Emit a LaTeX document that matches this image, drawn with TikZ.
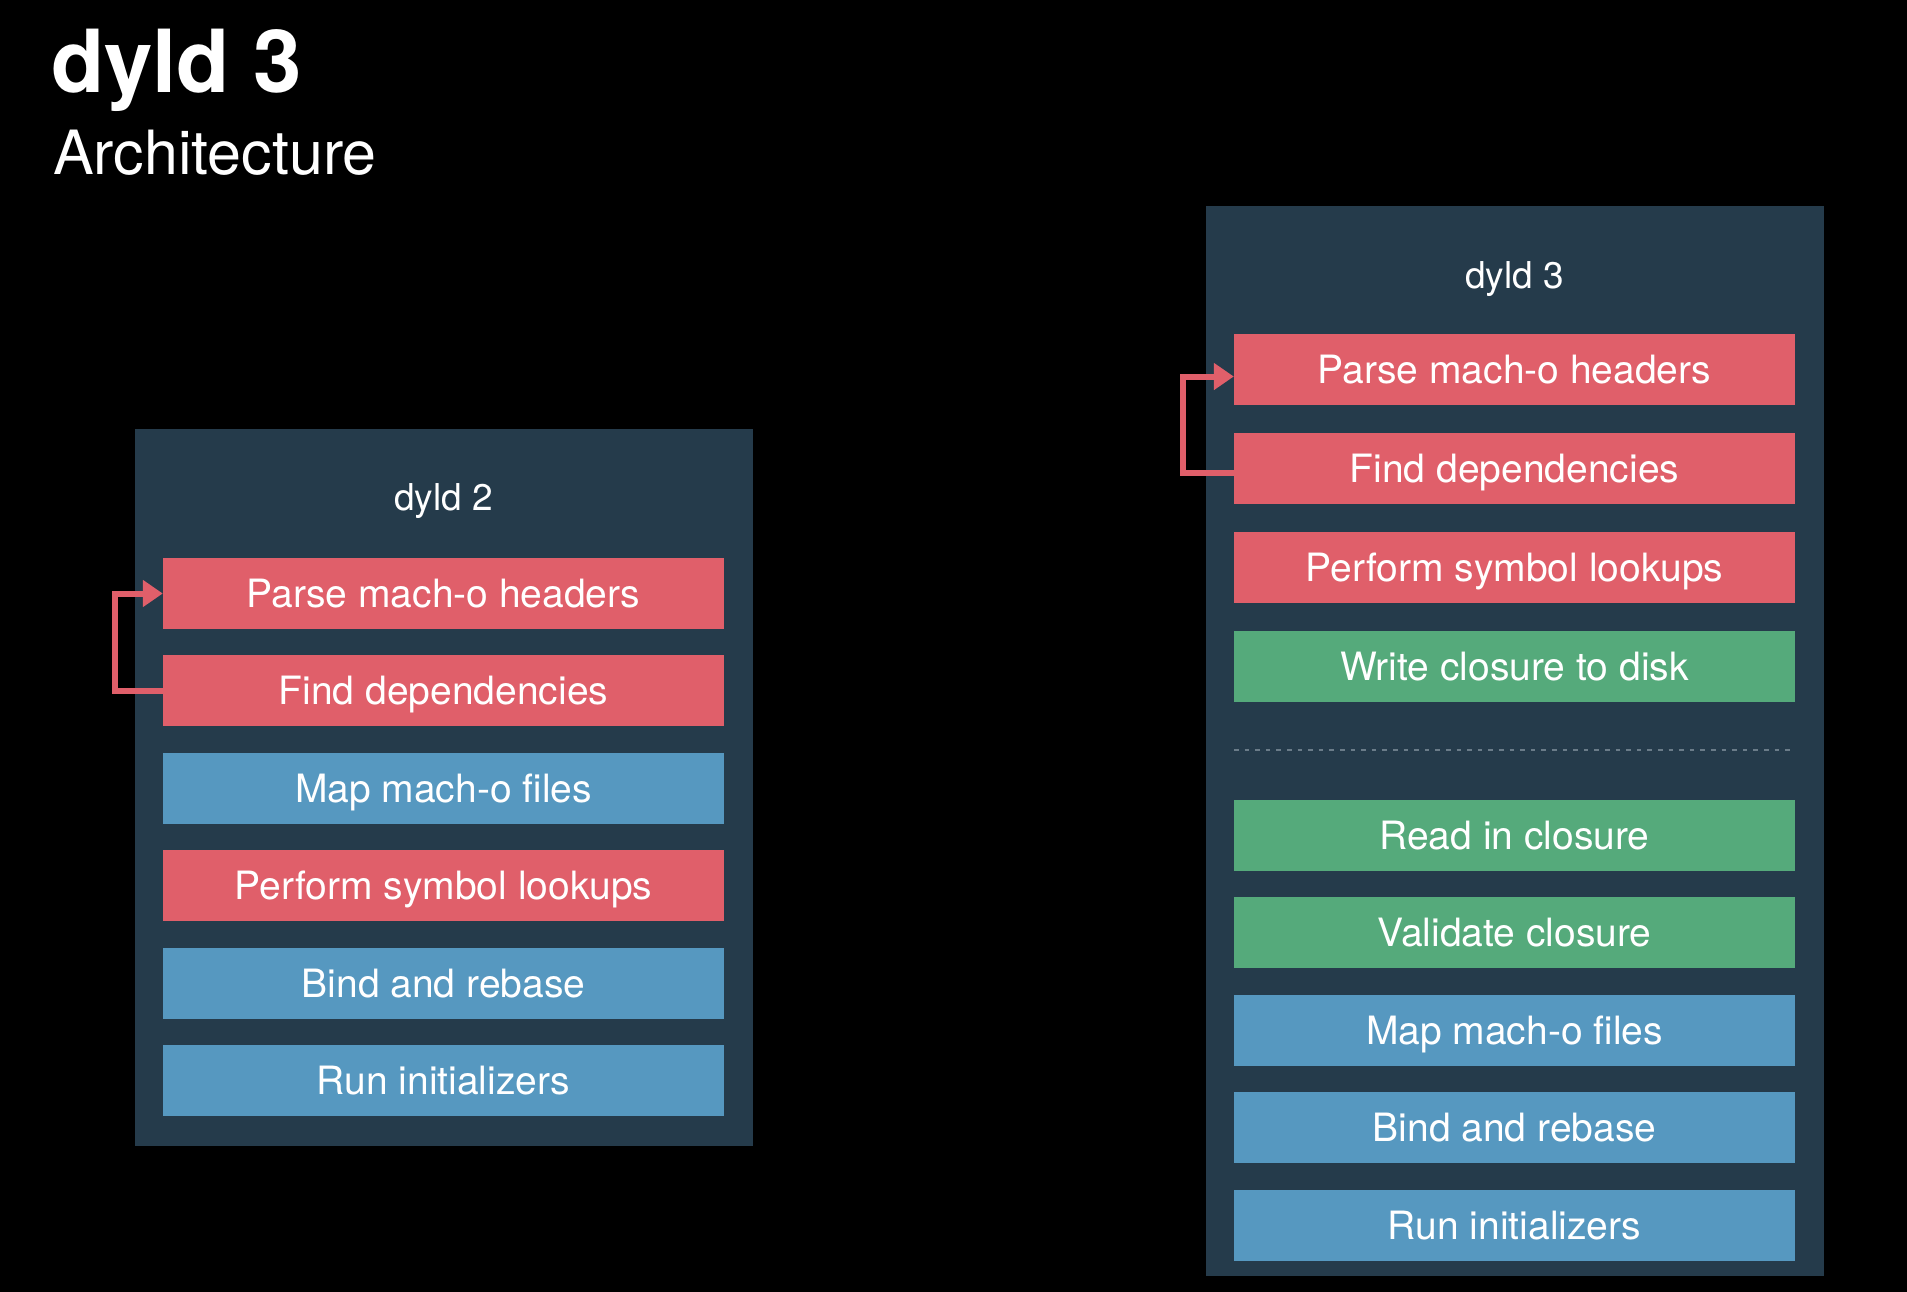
\documentclass[tikz,border=0pt]{standalone}
\usepackage{fontspec}
\setmainfont{TeX Gyre Heros}
\usetikzlibrary{arrows.meta}
\definecolor{panelbg}{HTML}{253B4B}
\definecolor{lookupred}{HTML}{E05F6A}
\definecolor{runblue}{HTML}{5698C0}
\definecolor{closuregreen}{HTML}{55AA7B}
\definecolor{sepgrey}{HTML}{6B7C89}

\begin{document}
\begin{tikzpicture}[x=1pt,y=-1pt,
    box/.style={minimum width=561pt, minimum height=71pt, inner sep=0pt, text=white,
      text height=28pt, text depth=0pt, font=\fontsize{39}{47}\selectfont},
    lookup/.style={box, fill=lookupred},
    runtime/.style={box, fill=runblue},
    closure/.style={box, fill=closuregreen},
    panel/.style={fill=panelbg},
    label/.style={text=white, anchor=base, inner sep=0pt, font=\fontsize{37}{44}\selectfont},
    back/.style={draw=lookupred, line width=6pt, -{Triangle[length=20pt,width=26pt]}},
    sep/.style={draw=sepgrey, line width=2.4pt, dash pattern=on 4.6pt off 6pt}]
  \fill[black] (0,0) rectangle (1907,1292);
  \node[text=white, anchor=base west, inner sep=0pt, font=\fontsize{87}{100}\selectfont\bfseries] (title) at (51,93) {dyld 3};
  \node[text=white, anchor=base west, inner sep=0pt, font=\fontsize{61}{72}\selectfont] (subtitle) at (53,175) {Architecture};

  \fill[panel] (135,429) rectangle (753,1146);
  \node[label] (d2) at (443.5,510) {dyld 2};
  \foreach \t/\s [count=\i] in {Parse mach-o headers/lookup, Find dependencies/lookup,
      Map mach-o files/runtime, Perform symbol lookups/lookup,
      Bind and rebase/runtime, Run initializers/runtime}
    \node[\s] (l\i) at (443.5,{593.5+97.4*(\i-1)}) {\t};
  \draw[back] (l2.west) -- ++(-48,0) |- (l1.west);

  \fill[panel] (1206,206) rectangle (1824,1276);
  \node[label] (d3) at (1514.5,288) {dyld 3};
  \foreach \t/\s [count=\i] in {Parse mach-o headers/lookup, Find dependencies/lookup,
      Perform symbol lookups/lookup, Write closure to disk/closure}
    \node[\s] (r\i) at (1514.5,{369.5+99*(\i-1)}) {\t};
  \foreach \t/\s [count=\i from 5] in {Read in closure/closure, Validate closure/closure,
      Map mach-o files/runtime, Bind and rebase/runtime, Run initializers/runtime}
    \node[\s] (r\i) at (1514.5,{835.5+97.4*(\i-5)}) {\t};
  \draw[sep] (1234,750) -- (1795,750);
  \draw[back] ([yshift=-4pt]r2.west) -- ++(-51,0) |- ([yshift=-7pt]r1.west);
\end{tikzpicture}
\end{document}
